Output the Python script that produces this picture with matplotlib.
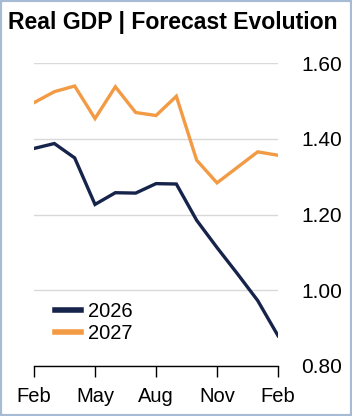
import matplotlib
matplotlib.use('Agg')
import matplotlib.pyplot as plt
from matplotlib.patches import Rectangle

plt.rcParams['font.family'] = ['Liberation Sans', 'DejaVu Sans']

# monthly forecast, Feb to Feb
months = list(range(13))
tick_pos = [0, 3, 6, 9, 12]
tick_labels = ['Feb', 'May', 'Aug', 'Nov', 'Feb']
gdp_2026 = [1.375, 1.388, 1.350, 1.227, 1.258, 1.257, 1.282, 1.281, 1.185, 1.113, 1.044, 0.973, 0.880]
gdp_2027 = [1.496, 1.525, 1.540, 1.454, 1.538, 1.470, 1.462, 1.513, 1.344, 1.284, 1.325, 1.366, 1.357]
yticks = [0.80, 1.00, 1.20, 1.40, 1.60]

navy = '#16244b'
orange = '#f39a45'

fig = plt.figure(figsize=(3.52, 4.16), dpi=100)
ax = fig.add_axes([0.0966, 0.1202, 0.6932, 0.7276])

ax.plot(months, gdp_2026, color=navy, lw=2.4, label='2026', solid_joinstyle='miter')
ax.plot(months, gdp_2027, color=orange, lw=2.4, label='2027', solid_joinstyle='miter')

ax.set_xlim(0, 12)
ax.set_ylim(0.8, 1.6)
ax.set_xticks(tick_pos)
ax.set_xticklabels(tick_labels)
ax.set_yticks(yticks)
ax.set_yticklabels(['%.2f' % v for v in yticks])
ax.yaxis.tick_right()
ax.tick_params(axis='y', length=0, pad=17, labelsize=15)
ax.tick_params(axis='x', length=8, width=1, direction='out', pad=7, labelsize=14.5, color='black')

for s in ['top', 'left', 'right']:
    ax.spines[s].set_visible(False)
ax.spines['bottom'].set_color('black')
ax.spines['bottom'].set_linewidth(1)

ax.grid(axis='y', color='#d9d9d9', lw=1)
ax.set_axisbelow(True)

leg = ax.legend(frameon=False, loc='upper left', bbox_to_anchor=(0.086, 0.212),
                fontsize=14.5, handlelength=1.3, handletextpad=0.35, labelspacing=0.15,
                borderpad=0, borderaxespad=0)
for ln in leg.get_lines():
    ln.set_linewidth(4)

fig.text(0.023, 1 - 29 / 416, 'Real GDP | Forecast Evolution', fontsize=16.6,
         fontweight='bold', va='baseline', ha='left')

fig.patches.append(Rectangle((0, 0), 1, 1, transform=fig.transFigure, fill=False,
                             ec='#a7bbd5', lw=3))

fig.savefig('out.png', dpi=100)
